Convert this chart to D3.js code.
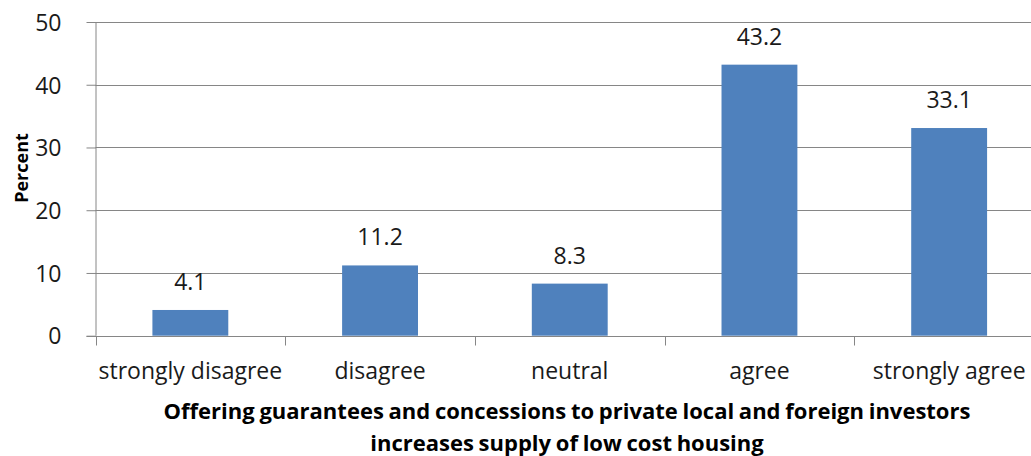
<!DOCTYPE html>
<html><head><meta charset="utf-8">
<script src="https://cdn.jsdelivr.net/npm/d3@7"></script>
<style>body{margin:0;background:#fff}svg{display:block}</style>
</head><body>
<svg id="c" width="1031" height="456"></svg>
<script>
const categories = ["strongly disagree","disagree","neutral","agree","strongly agree"];
const values = [4.1, 11.2, 8.3, 43.2, 33.1];
const yTicks = [0,10,20,30,40,50];
const yLabel = "Percent";
const titleLines = ["Offering guarantees and concessions to private local and foreign investors","increases supply of low cost housing"];

const svg = d3.select("#c");
const pLeft = 95.5, pRight = 1044, pTop = 22, pBottom = 335.7;
const font = "'Open Sans', sans-serif";
const x = d3.scaleBand().domain(categories).range([pLeft, pRight]);
const y = d3.scaleLinear().domain([0,50]).range([pBottom, pTop]);
const grey = "#868686";
const txt = "#1a1a1a";
const fs = 23;

// gridlines
svg.append("g").selectAll("line").data(yTicks.filter(d=>d>0)).join("line")
  .attr("x1", pLeft).attr("x2", pRight)
  .attr("y1", d=>Math.round(y(d))+0.5).attr("y2", d=>Math.round(y(d))+0.5)
  .attr("stroke", grey).attr("stroke-width",1);

// bars
const bw = x.bandwidth()*0.4;
svg.append("g").selectAll("rect").data(values).join("rect")
  .attr("x", (d,i)=>x(categories[i]) + x.bandwidth()/2 - bw/2)
  .attr("y", d=>y(d)).attr("width", bw).attr("height", d=>pBottom - y(d))
  .attr("fill", "#4F81BD");

// value labels
svg.append("g").selectAll("text").data(values).join("text")
  .attr("x", (d,i)=>x(categories[i]) + x.bandwidth()/2)
  .attr("y", d=>y(d) - 20)
  .attr("text-anchor","middle").attr("font-family",font).attr("font-size",fs)
  .attr("fill",txt)
  .text(d=>d.toFixed(1));

// y axis
const ya = d3.axisLeft(y).tickValues(yTicks).tickSize(9).tickPadding(25);
const gy = svg.append("g").attr("transform",`translate(${pLeft},0)`).call(ya);
gy.select(".domain").attr("stroke",grey).attr("d",`M0.5,${pTop}V${pBottom}`);
gy.selectAll(".tick line").attr("stroke",grey).attr("x1",0.5).attr("x2",-9);
gy.selectAll(".tick text").attr("font-family",font).attr("font-size",fs).attr("fill",txt).attr("dy","0.36em");

// x axis
const xa = d3.axisBottom(x).tickSize(0);
const gx = svg.append("g").attr("transform",`translate(0,${Math.round(pBottom)+0.5})`).call(xa);
gx.select(".domain").attr("stroke",grey).attr("d",`M${pLeft-9},0H${pRight}`);
gx.selectAll(".tick text").attr("font-family",font).attr("font-size",fs).attr("fill",txt)
  .attr("y",42).attr("dy",0);
const bounds = categories.map(c=>x(c)).concat([pRight]);
gx.append("g").selectAll("line").data(bounds).join("line")
  .attr("x1",d=>Math.round(d)+0.5).attr("x2",d=>Math.round(d)+0.5)
  .attr("y1",0).attr("y2",9).attr("stroke",grey);

// y label
svg.append("text").attr("transform","translate(28,168) rotate(-90)")
  .attr("text-anchor","middle").attr("font-family",font).attr("font-weight","bold")
  .attr("font-size",18).attr("fill","#000").text(yLabel);

// title
svg.append("g").selectAll("text").data(titleLines).join("text")
  .attr("x",567).attr("y",(d,i)=>419 + i*32)
  .attr("text-anchor","middle").attr("font-family",font).attr("font-weight","bold")
  .attr("font-size",22).attr("word-spacing",-1).attr("fill","#000").text(d=>d);
</script>
</body></html>
